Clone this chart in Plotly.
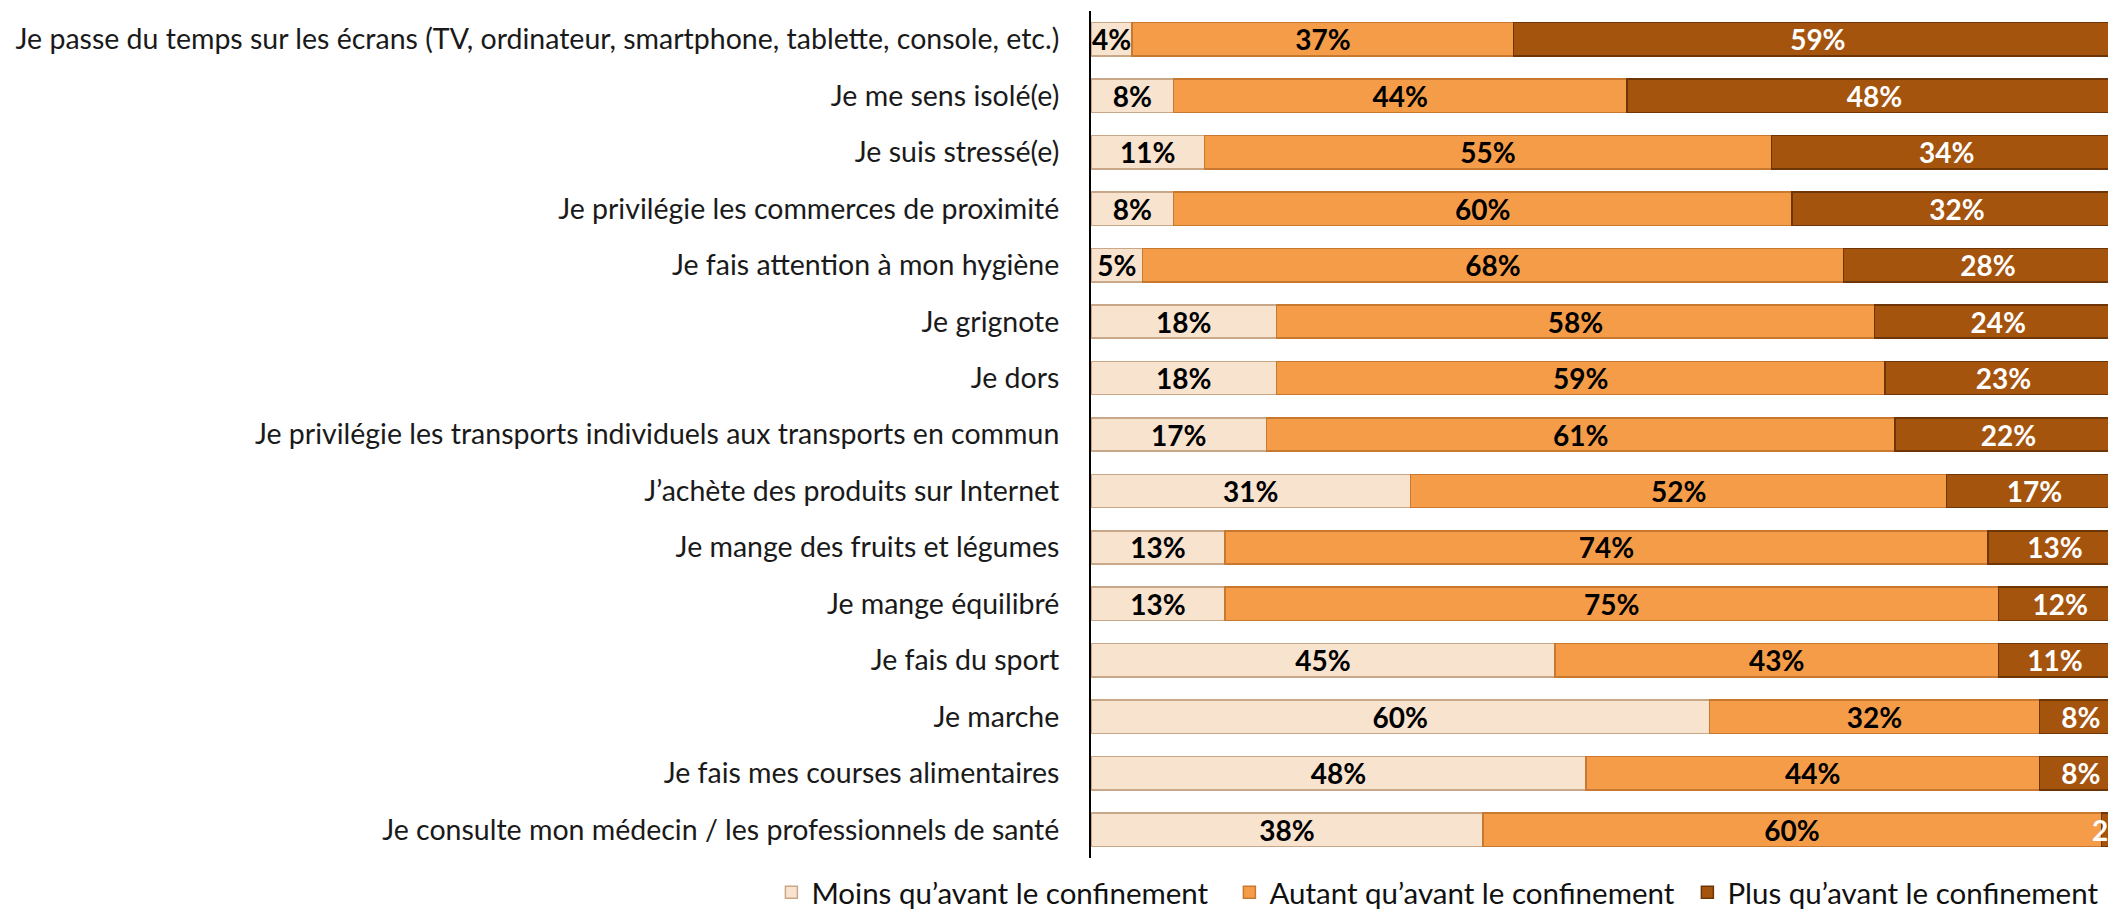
import plotly.graph_objects as go

categories = [
    "Je passe du temps sur les écrans (TV, ordinateur, smartphone, tablette, console, etc.)",
    "Je me sens isolé(e)",
    "Je suis stressé(e)",
    "Je privilégie les commerces de proximité",
    "Je fais attention à mon hygiène",
    "Je grignote",
    "Je dors",
    "Je privilégie les transports individuels aux transports en commun",
    "J’achète des produits sur Internet",
    "Je mange des fruits et légumes",
    "Je mange équilibré",
    "Je fais du sport",
    "Je marche",
    "Je fais mes courses alimentaires",
    "Je consulte mon médecin / les professionnels de santé",
]
moins = [4, 8, 11, 8, 5, 18, 18, 17, 31, 13, 13, 45, 60, 48, 38]
autant = [37, 44, 55, 60, 68, 58, 59, 61, 52, 74, 75, 43, 32, 44, 60]
plus = [59, 48, 34, 32, 28, 24, 23, 22, 17, 13, 12, 11, 8, 8, 2]

series_names = [
    "Moins qu’avant le confinement",
    "Autant qu’avant le confinement",
    "Plus qu’avant le confinement",
]

FONT = "Lato, Calibri, Open Sans, sans-serif"

fig = go.Figure()
styles = [
    (moins, "#F8E3CF", "#C9A88A", "black"),
    (autant, "#F59C48", "#C9782F", "black"),
    (plus, "#A5540E", "#6E3606", "white"),
]
for name, (vals, color, edge, tcolor) in zip(series_names, styles):
    fig.add_trace(go.Bar(
        y=categories,
        x=vals,
        name=name,
        orientation="h",
        marker=dict(color=color, line=dict(color=edge, width=1.5)),
        text=[f"{v}%" for v in vals],
        texttemplate="%{text}",
        textposition="inside",
        insidetextanchor="middle",
        textangle=0,
        textfont=dict(family=FONT, size=28, color=tcolor, weight="bold"),
        hoverinfo="skip",
    ))

fig.update_layout(
    barmode="stack",
    bargap=0.41,
    width=2116,
    height=909,
    margin=dict(l=1083, r=2, t=3, b=59, autoexpand=False),
    paper_bgcolor="white",
    plot_bgcolor="white",
    uniformtext=dict(mode="show", minsize=28),
    font=dict(family=FONT, size=28.5, color="#1a1a1a"),
    legend=dict(
        orientation="h",
        x=-0.31,
        xanchor="left",
        y=-0.01,
        yanchor="top",
        entrywidth=413,
        font=dict(family=FONT, size=29.5, color="#111"),
        traceorder="normal",
        itemclick=False,
    ),
    showlegend=True,
)
fig.update_xaxes(range=[0, 100], visible=False, showgrid=False)
fig.update_yaxes(
    autorange="reversed",
    showline=True,
    linecolor="black",
    linewidth=2,
    ticks="",
    showgrid=False,
    ticklabelstandoff=24,
    tickfont=dict(family=FONT, size=28.5, color="#1a1a1a"),
)

fig.write_html("out.html")
